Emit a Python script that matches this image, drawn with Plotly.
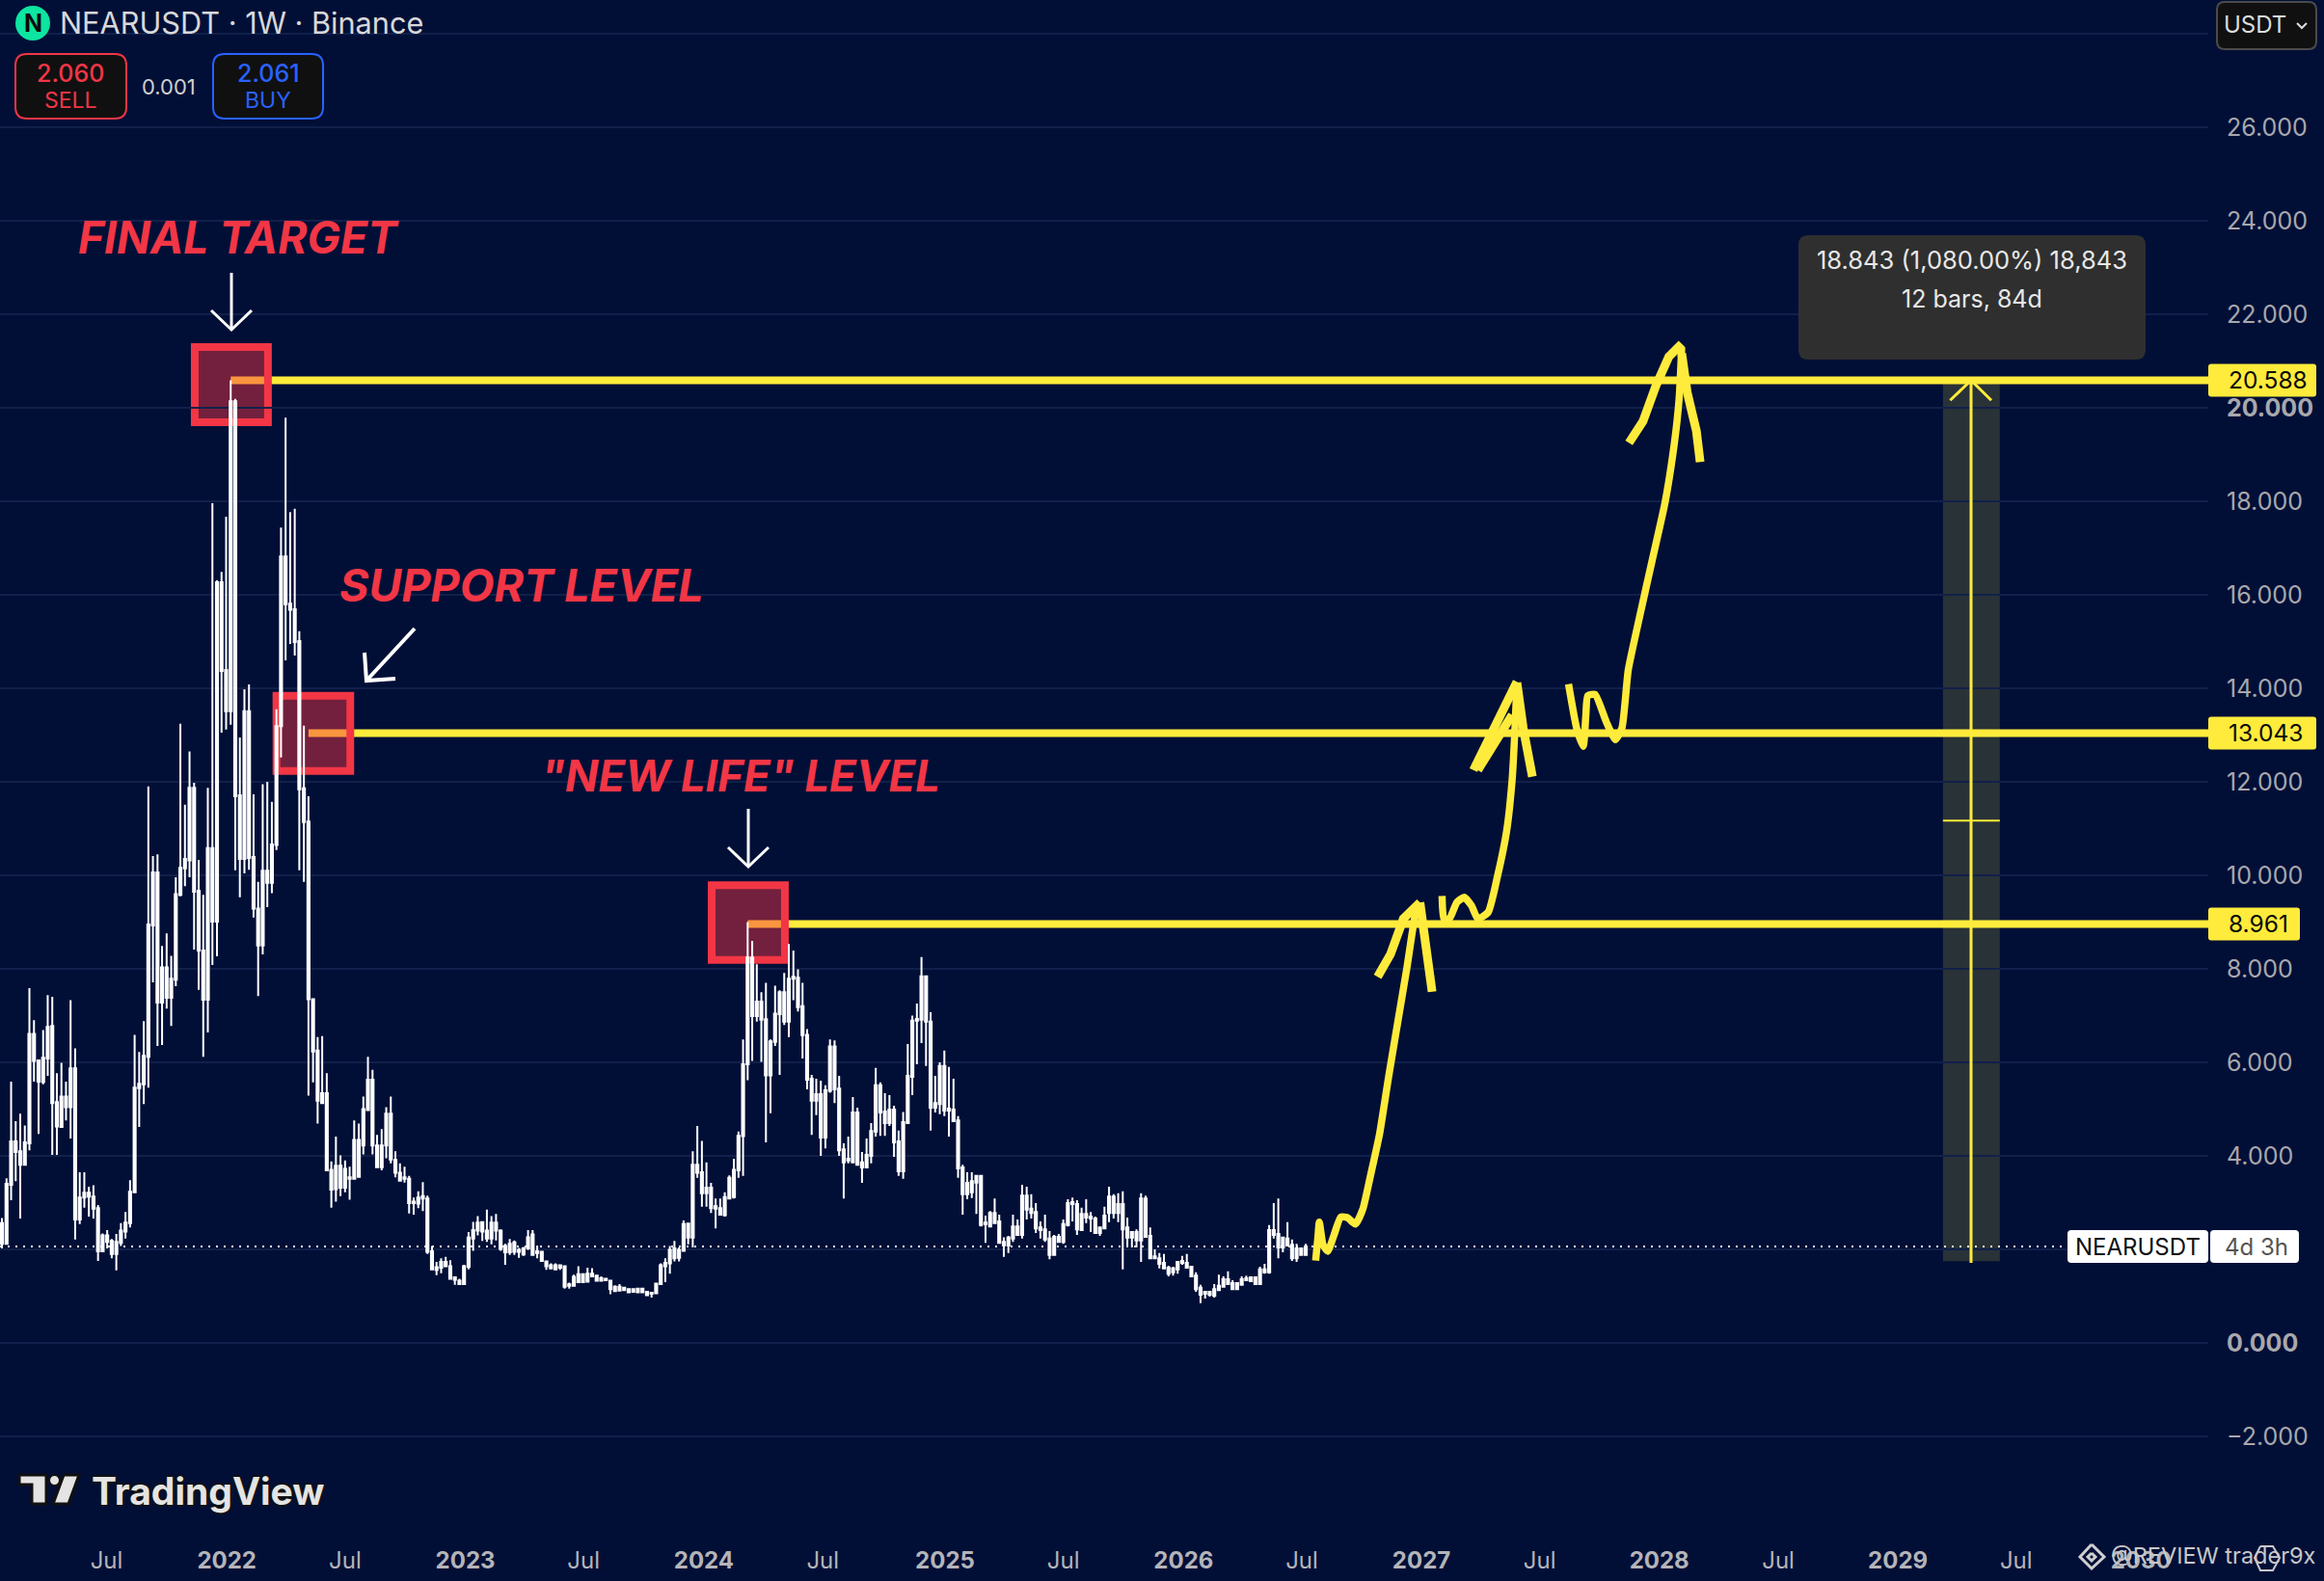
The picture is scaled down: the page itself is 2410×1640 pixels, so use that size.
import pandas as pd
import plotly.graph_objects as go

# weekly candles, all white in the source so only body top/bottom matter
bar_high = [
    2.67,3.52,5.59,4.74,4.90,4.65,7.59,6.90,6.06,6.69,
    7.44,7.40,5.77,5.99,5.59,7.33,6.30,3.65,3.65,3.34,
    3.37,2.95,2.34,2.41,2.22,2.33,2.56,2.80,3.48,6.59,
    6.22,6.88,11.90,10.41,10.45,8.49,8.76,8.28,9.96,13.24,
    11.51,12.65,11.98,10.33,9.58,11.87,17.96,16.31,16.49,17.67,
    20.59,20.19,12.95,13.98,14.08,11.73,9.86,11.95,12.00,11.57,
    13.55,17.44,19.79,17.77,17.84,15.22,13.20,11.69,7.36,6.54,
    6.56,5.77,3.88,4.41,4.01,3.90,3.77,4.76,4.69,5.27,
    6.12,5.84,4.45,4.57,5.04,5.27,4.10,3.84,3.77,3.57,
    3.11,3.24,3.44,3.15,2.07,1.73,1.81,1.84,1.77,1.40,
    1.37,1.67,2.37,2.59,2.71,2.60,2.85,2.71,2.76,2.43,
    2.12,2.22,2.19,2.03,2.05,2.41,2.41,2.08,1.97,1.75,
    1.70,1.70,1.68,1.64,1.29,1.46,1.64,1.49,1.61,1.60,
    1.45,1.42,1.38,1.35,1.23,1.26,1.20,1.15,1.16,1.18,
    1.18,1.11,1.08,1.27,1.70,1.81,2.07,2.18,2.04,2.62,
    2.55,4.10,4.64,4.32,3.86,3.42,3.09,3.09,3.22,3.58,
    3.94,4.52,6.49,9.00,8.60,8.10,7.50,7.70,6.49,7.64,
    7.54,7.91,8.53,8.39,7.99,7.70,6.71,5.73,5.65,5.61,
    5.51,6.49,6.47,5.71,4.27,4.41,5.26,5.03,4.08,4.37,
    4.70,5.88,5.57,5.34,5.30,5.07,4.54,4.94,6.39,7.00,
    7.26,8.25,7.86,7.07,5.71,6.00,6.25,5.90,5.65,4.85,
    3.81,3.65,3.65,3.57,3.57,2.72,2.82,3.09,2.74,2.26,
    2.29,2.74,2.64,3.38,3.34,3.18,2.99,2.60,2.74,2.39,
    2.31,2.33,2.64,3.07,3.11,3.05,2.89,3.07,2.80,2.70,
    2.49,2.91,3.34,3.18,3.20,3.24,2.68,2.39,2.43,3.20,
    3.15,2.47,2.00,1.92,1.90,1.65,1.63,1.75,1.86,1.90,
    1.63,1.51,1.24,1.11,1.11,1.26,1.46,1.42,1.53,1.34,
    1.30,1.42,1.44,1.42,1.40,1.63,1.69,2.52,2.99,3.09,
    2.27,2.58,2.21,2.12,2.04,2.12,
]
body_top = [
    2.56,3.40,4.31,4.31,4.10,4.29,6.61,6.61,6.04,6.10,
    6.76,6.78,5.15,5.27,5.27,5.87,5.87,3.11,3.21,3.21,
    3.13,2.88,2.30,2.30,2.18,2.16,2.40,2.57,3.23,5.46,
    5.54,6.14,8.95,10.06,10.06,8.03,8.03,7.79,9.60,10.16,
    10.35,11.87,11.87,9.67,8.39,10.58,10.58,16.27,16.27,14.39,
    20.14,20.14,11.71,13.51,13.51,10.39,9.29,10.10,10.10,10.66,
    13.19,16.82,16.82,15.81,15.69,15.01,11.86,11.15,7.35,6.25,
    5.34,5.34,3.70,3.79,3.79,3.72,3.54,4.34,4.34,5.00,
    5.63,5.63,4.22,4.22,4.90,4.90,3.91,3.64,3.54,3.51,
    3.02,3.11,3.14,3.09,1.96,1.62,1.73,1.73,1.64,1.40,
    1.33,1.64,2.25,2.41,2.57,2.58,2.40,2.57,2.57,2.40,
    2.07,2.12,2.15,1.99,2.02,2.26,2.32,1.96,1.95,1.74,
    1.66,1.66,1.66,1.64,1.25,1.41,1.47,1.47,1.48,1.48,
    1.44,1.38,1.37,1.33,1.20,1.20,1.18,1.15,1.15,1.16,
    1.16,1.09,1.07,1.27,1.66,1.71,1.99,2.02,1.99,2.54,
    2.55,3.81,3.81,3.65,3.32,3.32,2.92,2.88,3.12,3.53,
    3.70,4.43,5.96,8.24,8.24,7.30,7.30,6.92,6.45,7.04,
    7.50,7.50,7.79,7.83,7.81,7.20,6.59,5.65,5.32,5.32,
    5.40,6.34,6.34,5.44,4.14,3.94,4.93,4.93,3.86,4.02,
    4.53,5.51,5.51,4.95,4.99,4.99,4.31,4.72,5.71,6.89,
    6.93,7.84,7.84,6.87,5.13,5.92,5.92,5.01,4.99,4.76,
    3.75,3.42,3.46,3.57,3.57,2.57,2.78,2.78,2.60,2.16,
    2.25,2.49,2.49,3.15,3.15,2.87,2.80,2.47,2.43,2.23,
    2.27,2.27,2.54,2.99,3.01,2.97,2.76,2.76,2.70,2.66,
    2.47,2.72,3.13,3.13,2.97,2.97,2.47,2.37,2.37,3.09,
    3.09,2.29,1.85,1.81,1.71,1.61,1.59,1.73,1.75,1.71,
    1.63,1.44,1.18,1.09,1.09,1.15,1.22,1.36,1.36,1.28,
    1.28,1.36,1.38,1.40,1.40,1.57,1.57,2.41,2.41,2.33,
    2.25,2.23,2.10,2.02,2.02,2.06,
]
body_bottom = [
    2.12,2.12,3.38,4.08,3.81,3.81,4.27,6.03,5.59,5.58,
    6.08,5.13,4.63,4.62,5.04,5.04,2.64,2.64,3.11,3.13,
    2.87,1.96,1.96,2.16,1.90,1.90,2.14,2.38,2.56,3.22,
    5.45,5.53,6.12,8.93,7.28,7.28,7.38,7.38,7.77,9.58,
    10.15,10.32,9.65,8.39,7.34,7.34,9.01,9.01,14.37,13.51,
    13.51,11.69,10.35,10.35,10.37,9.29,8.50,8.50,9.84,9.84,
    10.65,13.19,15.80,15.68,14.99,11.84,11.14,7.35,6.23,5.18,
    5.13,3.69,3.28,3.29,3.32,3.32,3.51,3.51,3.55,4.22,
    4.98,4.22,3.76,3.76,4.22,3.92,3.64,3.47,3.51,2.99,
    2.99,2.98,3.09,1.95,1.57,1.56,1.61,1.64,1.37,1.35,
    1.26,1.26,1.63,2.23,2.40,2.38,2.23,2.23,2.40,2.01,
    1.94,1.94,1.95,1.95,1.89,2.02,1.88,1.92,1.75,1.64,
    1.59,1.57,1.61,1.20,1.22,1.22,1.30,1.30,1.31,1.42,
    1.33,1.33,1.34,1.15,1.11,1.12,1.13,1.08,1.09,1.08,
    1.08,1.02,1.05,1.06,1.26,1.64,1.70,1.81,1.82,1.97,
    2.25,2.25,3.64,3.20,3.20,2.88,2.87,2.74,2.73,3.09,
    3.12,3.69,4.42,5.96,6.99,6.99,6.91,5.72,5.72,6.44,
    7.03,6.87,6.87,7.79,7.18,6.58,5.63,5.18,5.18,4.39,
    4.39,5.39,5.42,4.12,3.86,3.90,3.86,3.81,3.75,3.75,
    4.00,4.52,4.93,4.70,4.70,4.29,3.67,3.67,4.70,5.69,
    6.89,6.91,6.87,5.03,5.03,5.11,4.97,4.97,4.74,3.73,
    3.18,3.18,3.22,3.43,2.52,2.54,2.49,2.56,2.14,2.09,
    2.08,2.23,2.31,2.31,2.85,2.78,2.45,2.41,2.21,1.88,
    1.88,2.16,2.16,2.52,2.97,2.43,2.41,2.68,2.66,2.35,
    2.35,2.45,2.78,2.78,2.78,2.43,2.25,2.25,2.19,2.19,
    2.27,1.81,1.81,1.69,1.59,1.48,1.51,1.57,1.71,1.61,
    1.42,1.15,1.03,1.05,1.03,1.01,1.13,1.20,1.26,1.15,
    1.15,1.24,1.34,1.32,1.26,1.26,1.51,1.51,2.31,2.04,
    2.04,2.08,1.81,1.81,1.88,1.88,
]
bar_low = [
    2.02,2.11,3.05,3.46,2.66,3.79,4.12,5.59,4.47,5.53,
    5.71,4.02,4.02,4.60,4.76,4.37,2.21,2.54,2.89,2.70,
    2.66,1.75,1.94,2.02,1.81,1.55,2.07,2.23,2.47,3.22,
    4.62,5.11,5.46,7.71,6.35,6.37,7.15,6.78,7.63,9.55,
    9.77,9.96,8.41,7.55,6.12,6.64,8.08,8.27,13.05,13.12,
    13.22,10.11,9.53,10.04,10.12,9.10,7.42,8.31,9.32,9.62,
    10.54,12.52,14.60,14.95,14.70,10.11,9.86,5.29,5.57,4.69,
    5.11,3.69,2.89,3.02,3.14,3.22,3.06,3.51,3.55,4.03,
    4.98,4.03,3.76,3.69,3.95,3.84,3.54,3.47,3.43,2.77,
    2.74,2.88,2.82,1.90,1.57,1.45,1.49,1.64,1.37,1.24,
    1.24,1.26,1.57,1.97,2.30,2.18,2.16,2.11,2.19,1.97,
    1.67,1.88,1.88,1.82,1.86,1.99,1.86,1.81,1.75,1.56,
    1.59,1.56,1.56,1.16,1.16,1.22,1.29,1.29,1.30,1.40,
    1.33,1.33,1.33,1.04,1.09,1.11,1.12,1.08,1.08,1.08,
    1.08,1.02,0.97,1.06,1.26,1.30,1.48,1.74,1.74,1.97,
    2.11,2.04,3.53,2.91,2.91,2.78,2.45,2.74,2.70,3.09,
    3.09,3.53,3.57,5.62,6.03,6.87,6.01,4.29,4.91,6.35,
    5.73,6.80,6.54,7.33,7.09,6.08,5.42,4.45,4.87,4.00,
    4.16,5.35,5.13,4.00,3.09,3.84,3.84,3.81,3.42,3.75,
    3.84,4.41,4.43,4.43,4.64,3.98,3.57,3.51,4.70,5.30,
    5.96,6.41,5.92,4.54,4.93,4.89,4.85,4.41,4.74,3.53,
    2.74,3.07,3.10,2.76,2.49,2.14,2.49,2.54,2.12,1.84,
    1.92,2.16,2.31,2.23,2.64,2.66,2.35,2.23,2.16,1.79,
    1.88,2.16,2.12,2.49,2.60,2.31,2.39,2.56,2.37,2.35,
    2.29,2.45,2.58,2.66,2.58,1.57,2.06,2.04,2.04,1.73,
    2.25,1.81,1.81,1.59,1.59,1.42,1.44,1.48,1.67,1.61,
    1.42,1.09,0.85,0.95,0.99,0.97,1.13,1.20,1.26,1.13,
    1.15,1.24,1.32,1.32,1.26,1.26,1.48,1.48,2.23,1.81,
    1.94,2.08,1.75,1.73,1.86,1.88,
]
bar_dates = pd.date_range("2021-01-22", periods=len(bar_high), freq="7D")

# horizontal levels and when each one starts
level_values = [20.588, 13.043, 8.961]
level_starts = ["2022-01-07", "2022-05-06", "2024-03-08"]
level_texts = ["20.588", "13.043", "8.961"]
last_price = 2.06

# red squares around the levels: start, end, top, bottom
box_starts = ["2021-11-13", "2022-03-18", "2024-01-13"]
box_ends = ["2022-03-05", "2022-07-09", "2024-05-04"]
box_tops = [21.30, 13.84, 9.79]
box_bottoms = [19.69, 12.23, 8.19]

# hand drawn path, x in weeks after the first bar
path_a_weeks = [287.16,287.64,287.97,288.77,289.82,291.19,292.64,294.09,295.86,297.47,299.09,301.10,303.11,305.13,307.14,309.16,309.96]
path_a_prices = [1.76,2.24,2.58,2.10,1.96,2.31,2.69,2.68,2.54,2.86,3.55,4.45,5.69,6.87,8.04,9.28,9.42]
path_b_weeks = [314.80,315.20,316.41,318.02,319.63,321.24,322.61,324.87,326.89,328.90,330.11,330.67,331.16]
path_b_prices = [9.56,9.07,9.07,9.42,9.53,9.35,9.07,9.21,9.97,10.94,12.04,13.01,14.12]
path_c_weeks = [342.44,344.21,345.66,346.23,346.63,348.24,350.66,352.67,354.12,355.49,357.91,360.73,363.55,365.56,366.61,367.18]
path_c_prices = [14.09,13.15,12.76,13.43,13.84,13.87,13.29,12.90,13.15,14.39,15.50,16.74,17.98,19.23,20.19,21.30]
barb_weeks = [
    [300.70,303.52,306.34,309.96],
    [309.96,310.77,311.58,312.62],
    [321.65,324.87,328.09,331.16],
    [322.61,326.48,330.11],
    [331.16,332.53,334.54],
    [355.65,358.72,361.54,364.36,367.18],
    [367.18,368.38,370.40,371.21],
]
barb_prices = [
    [7.83,8.31,9.07,9.42],
    [9.42,8.87,8.18,7.51],
    [12.25,12.87,13.49,14.14],
    [12.25,12.87,13.43],
    [14.12,13.15,12.11],
    [19.25,19.71,20.47,21.09,21.37],
    [21.16,20.33,19.50,18.84],
]

# axis labels
x_tick_dates = ["2021-07-01","2022-01-01","2022-07-01","2023-01-01","2023-07-01","2024-01-01","2024-07-01",
                "2025-01-04","2025-07-04","2026-01-04","2026-07-04","2027-01-03","2027-07-03","2028-01-02",
                "2028-07-02","2029-01-01","2029-07-01","2030-01-08"]
x_tick_text = ["Jul","<b>2022</b>","Jul","<b>2023</b>","Jul","<b>2024</b>","Jul","<b>2025</b>","Jul","<b>2026</b>",
               "Jul","<b>2027</b>","Jul","<b>2028</b>","Jul","<b>2029</b>","Jul","<b>2030</b>"]
y_tick_vals = [-2,0,2,4,6,8,10,12,14,16,18,20,22,24,26,28]
y_tick_text = ["\u22122.000","<b>0.000</b>","2.000","4.000","6.000","8.000","10.000","12.000","14.000",
               "16.000","18.000","<b>20.000</b>","22.000","24.000","26.000",""]

BG = "#010f37"
GRID = "#11204a"
YELLOW = "#ffeb3b"
RED = "#f23645"
BLUE = "#2962ff"
FONT = "Inter"

PLOT_W = 2290
PLOT_H = 1580


def px(x):
    return x / PLOT_W


def py(y):
    return 1 - y / PLOT_H


def AddText(fig, x, y, text, size, color, anchor="center", **font_kw):
    fig.add_annotation(x=px(x), y=py(y), xref="paper", yref="paper", text=text, showarrow=False,
                       xanchor=anchor, yanchor="middle", borderpad=0,
                       font=dict(family=FONT, size=size, color=color, **font_kw))


def RoundRect(x0, y0, x1, y1, r):
    # rounded box as svg path in paper fractions
    pts = [("M", x0 + r, y0), ("L", x1 - r, y0), ("Q", x1, y0, x1, y0 + r), ("L", x1, y1 - r),
           ("Q", x1, y1, x1 - r, y1), ("L", x0 + r, y1), ("Q", x0, y1, x0, y1 - r), ("L", x0, y0 + r),
           ("Q", x0, y0, x0 + r, y0)]
    parts = []
    for p in pts:
        if p[0] == "Q":
            parts.append(f"Q{px(p[1])},{py(p[2])} {px(p[3])},{py(p[4])}")
        else:
            parts.append(f"{p[0]}{px(p[1])},{py(p[2])}")
    return " ".join(parts) + " Z"


def Polyline(points, close=False):
    d = " ".join(("M" if i == 0 else "L") + f"{px(a)},{py(b)}" for i, (a, b) in enumerate(points))
    return d + (" Z" if close else "")


def AddBox(fig, x0, y0, x1, y1, r, fill, border=None, width=2):
    fig.add_shape(type="path", xref="paper", yref="paper", path=RoundRect(x0, y0, x1, y1, r),
                  fillcolor=fill, line=dict(color=border or fill, width=width if border else 0), layer="above")


def AddStroke(fig, points, color, width):
    fig.add_shape(type="path", xref="paper", yref="paper", path=Polyline(points),
                  line=dict(color=color, width=width), layer="above")


def WeeksToDates(weeks):
    return bar_dates[0] + pd.to_timedelta([w * 7 for w in weeks], unit="D")


fig = go.Figure()

# order matters for layer=below: dotted line, levels, projection band, red squares
fig.add_shape(type="line", xref="paper", yref="y", x0=0, x1=px(2144), y0=last_price, y1=last_price,
              line=dict(color="#ffffff", width=2, dash="2px,6px"), layer="below")
fig.add_shape(type="rect", x0="2029-03-11", x1="2029-06-06", y0=1.745, y1=20.588,
              fillcolor="rgba(255,235,59,0.16)", line_width=0, layer="below")
for value, start in zip(level_values, level_starts):
    fig.add_shape(type="line", x0=start, x1="2030-04-21", y0=value, y1=value,
                  line=dict(color=YELLOW, width=8), layer="below")
for start, end, top, bottom in zip(box_starts, box_ends, box_tops, box_bottoms):
    fig.add_shape(type="rect", x0=start, x1=end, y0=bottom, y1=top, fillcolor="rgba(242,54,69,0.47)",
                  line=dict(color=RED, width=8), layer="below")

fig.add_trace(go.Candlestick(
    x=bar_dates, open=body_bottom, close=body_top, high=bar_high, low=bar_low,
    increasing=dict(line=dict(color="#ffffff", width=2), fillcolor="#ffffff"),
    decreasing=dict(line=dict(color="#ffffff", width=2), fillcolor="#ffffff"),
    whiskerwidth=0, hoverinfo="skip", showlegend=False,
))

# long position tool: vertical line, arrow barbs, middle tick
fig.add_trace(go.Scatter(x=["2029-04-23", "2029-04-23"], y=[1.71, 20.588], mode="lines",
                         line=dict(color=YELLOW, width=3), hoverinfo="skip", showlegend=False))
fig.add_trace(go.Scatter(x=["2029-03-22", "2029-04-23", "2029-05-24"], y=[20.16, 20.588, 20.16], mode="lines",
                         line=dict(color=YELLOW, width=3), hoverinfo="skip", showlegend=False))
fig.add_trace(go.Scatter(x=["2029-03-11", "2029-06-06"], y=[11.17, 11.17], mode="lines",
                         line=dict(color=YELLOW, width=2), hoverinfo="skip", showlegend=False))

for weeks, prices in [(path_a_weeks, path_a_prices), (path_b_weeks, path_b_prices), (path_c_weeks, path_c_prices)]:
    fig.add_trace(go.Scatter(x=WeeksToDates(weeks), y=prices, mode="lines",
                             line=dict(color=YELLOW, width=7.5, shape="spline", smoothing=0.5),
                             hoverinfo="skip", showlegend=False))
for weeks, prices in zip(barb_weeks, barb_prices):
    fig.add_trace(go.Scatter(x=WeeksToDates(weeks), y=prices, mode="lines",
                             line=dict(color=YELLOW, width=9),
                             hoverinfo="skip", showlegend=False))

# header
fig.add_shape(type="circle", xref="paper", yref="paper", x0=px(16), x1=px(52), y0=py(42), y1=py(6),
              fillcolor="#0de5a0", line_width=0, layer="above")
AddText(fig, 34, 24, "<b>N</b>", 25, "#0b0b0b")
AddText(fig, 61, 24, "NEARUSDT \u00b7 1W \u00b7 Binance", 30.7, "#d8d8d8", anchor="left")
AddBox(fig, 16, 56, 131, 123, 12, "#101010", RED)
AddText(fig, 73, 76, "2.060", 25, RED, weight=500)
AddText(fig, 73, 104, "SELL", 23, RED)
AddText(fig, 175, 90, "0.001", 22, "#cfcfcf")
AddBox(fig, 221, 56, 335, 123, 12, "#101010", BLUE)
AddText(fig, 278, 76, "2.061", 25, BLUE, weight=500)
AddText(fig, 278, 104, "BUY", 23, BLUE)

# call-outs
AddText(fig, 80, 246, "<b><i>FINAL TARGET</i></b>", 46, RED, anchor="left")
AddText(fig, 351, 607, "<b><i>SUPPORT LEVEL</i></b>", 46.5, RED, anchor="left")
AddText(fig, 560, 804, "<b><i>\"NEW LIFE\" LEVEL</i></b>", 45.3, RED, anchor="left")
AddStroke(fig, [(240, 283), (240, 342)], "#ffffff", 3)
AddStroke(fig, [(219, 322), (240, 342), (261, 322)], "#ffffff", 3)
AddStroke(fig, [(776, 839), (776, 899)], "#ffffff", 3)
AddStroke(fig, [(755, 879), (776, 899), (797, 879)], "#ffffff", 3)
AddStroke(fig, [(430, 652), (380, 706)], "#ffffff", 4)
AddStroke(fig, [(378, 677), (380, 706), (410, 704)], "#ffffff", 4)

# measure tooltip
AddBox(fig, 1865, 244, 2225, 373, 10, "#2f2f2f")
AddText(fig, 2045, 269, "18.843 (1,080.00%) 18,843", 25.5, "#e8e8e8")
AddText(fig, 2045, 310, "12 bars, 84d", 25, "#e8e8e8")

# right scale widgets
AddBox(fig, 2299, 2, 2402, 51, 8, "#101010", "#4a4a4a")
AddText(fig, 2305, 26, "USDT", 24, "#dcdcdc", anchor="left")
AddStroke(fig, [(2382, 24), (2387, 29), (2392, 24)], "#dcdcdc", 2)
for value, text in zip(level_values, level_texts):
    mid = 1393 - value * 48.5
    AddBox(fig, 2290, mid - 17, 2402 if value > 10 else 2385, mid + 17, 3, YELLOW)
    AddText(fig, 2310, mid, text, 24.5, "#0a0a0a", anchor="left")
AddBox(fig, 2144, 1276, 2290, 1310, 4, "#ffffff")
AddText(fig, 2217, 1293, "NEARUSDT", 24, "#101010")
AddBox(fig, 2292, 1276, 2384, 1310, 4, "#ffffff")
AddText(fig, 2340, 1293, "4d 3h", 24, "#555555")

# TradingView mark
tv_outline = "#111111"
for pts in [[(20, 1530), (48, 1530), (48, 1560), (33, 1560), (33, 1540), (20, 1540)],
            [(66, 1530), (82, 1530), (71, 1560), (55, 1560)]]:
    fig.add_shape(type="path", xref="paper", yref="paper", path=Polyline(pts, close=True),
                  fillcolor="#e4e4e4", line=dict(color=tv_outline, width=3), layer="above")
fig.add_shape(type="circle", xref="paper", yref="paper", x0=px(51), x1=px(62), y0=py(1541), y1=py(1530),
              fillcolor="#e4e4e4", line=dict(color=tv_outline, width=2), layer="above")
AddText(fig, 94, 1546, "<b>TradingView</b>", 39, "#e4e4e4", anchor="left",
        shadow="-2px 0 #111,2px 0 #111,0 -2px #111,0 2px #111")

# watermark
AddStroke(fig, [(2169, 1602), (2182, 1615), (2169, 1627), (2157, 1615), (2169, 1602)], "#cfcfcf", 3)
AddStroke(fig, [(2169, 1611), (2173, 1615), (2169, 1619), (2165, 1615), (2169, 1611)], "#cfcfcf", 3)
AddText(fig, 2188, 1614, "@REVIEW trader9x", 23.5, "#c8c8c8", anchor="left")
AddStroke(fig, [(2344, 1604), (2357, 1604), (2364, 1616), (2357, 1629), (2344, 1629), (2338, 1616), (2344, 1604)],
          "#c8c8c8", 2)

fig.update_layout(
    width=2410, height=1640, autosize=False,
    margin=dict(l=0, r=120, t=0, b=60, pad=0),
    paper_bgcolor=BG, plot_bgcolor=BG,
    boxgap=0.5, boxgroupgap=0.1, showlegend=False, hovermode=False,
    font=dict(family=FONT, size=24, color="#b4b4b8"),
    xaxis=dict(type="date", range=["2021-01-19", "2030-04-21"], rangeslider=dict(visible=False),
               showgrid=False, zeroline=False, showline=False,
               tickmode="array", tickvals=x_tick_dates, ticktext=x_tick_text,
               ticks="outside", ticklen=17, tickcolor=BG, tickwidth=1,
               tickfont=dict(family=FONT, size=24, color="#b4b4b8")),
    yaxis=dict(side="right", range=[-3.856, 28.722], showgrid=True, gridcolor=GRID, gridwidth=1.5,
               zeroline=False, showline=False, tickmode="array", tickvals=y_tick_vals, ticktext=y_tick_text,
               ticks="outside", ticklen=13, tickcolor=BG, tickwidth=1,
               tickfont=dict(family=FONT, size=25, color="#a8a8ac")),
)

fig.write_html("out.html", config={"displayModeBar": False},
               post_script="document.body.style.margin='0';document.body.style.overflow='hidden';")
